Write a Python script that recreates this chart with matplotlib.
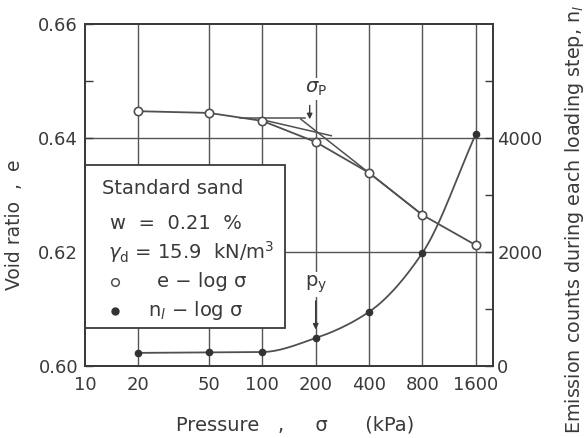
import numpy as np
import matplotlib
matplotlib.use("Agg")
import matplotlib.pyplot as plt
from matplotlib.patches import Rectangle

# ---- data ----
pressure = [20, 50, 100, 200, 400, 800, 1600]          # kPa
void_ratio = [0.6447, 0.6444, 0.6430, 0.6393, 0.6339, 0.6265, 0.6212]
emission = [230, 238, 245, 490, 950, 1985, 4070]        # n_l
x_ticks = [10, 20, 50, 100, 200, 400, 800, 1600]
x_ticklabels = ["10", "20", "50", "100", "200", "400", "800", "1600"]
e_ticks = [0.60, 0.62, 0.64, 0.66]
n_ticks = [0, 2000, 4000]
# Casagrande construction (sigma_p)
horiz_x = [75, 175]
horiz_e = [0.6435, 0.6435]
tang_x = [100, 245]
tang_e = [0.6432, 0.6404]
virgin_x = [165, 800]
virgin_e = [0.6433, 0.6265]
sigma_p = 185
p_y = 200

INK = "#3a3a3a"
LINE = "#505050"
plt.rcParams["font.family"] = ["DejaVu Sans"]

fig = plt.figure(figsize=(5.84, 4.38), dpi=100)
ax = fig.add_axes([85/584, 72/438, 408/584, 342/438])
ax2 = ax.twinx()

ax.set_xscale("log")
ax.set_xlim(10, 2000)
ax.set_ylim(0.60, 0.66)
ax2.set_ylim(0, 6000)

# grid lines (manual, below legend box)
for xv in pressure:
    ax.axvline(xv, color="#555555", lw=1.0, zorder=1)
for yv in [0.62, 0.64]:
    ax.axhline(yv, color="#555555", lw=1.0, zorder=1)

# ticks
ax.set_xticks(x_ticks)
ax.set_xticklabels(x_ticklabels)
ax.xaxis.set_minor_locator(matplotlib.ticker.NullLocator())
ax.tick_params(axis="x", which="both", length=0, pad=7, labelsize=13, colors=INK)
ax.set_yticks(e_ticks)
ax.set_yticklabels(["0.60", "0.62", "0.64", "0.66"])
ax.set_yticks([0.61, 0.63, 0.65], minor=True)
ax.tick_params(axis="y", which="both", direction="in", length=6, width=1,
               pad=5, labelsize=13, colors=INK)
ax2.set_yticks(n_ticks)
ax2.set_yticklabels(["0", "2000", "4000"])
ax2.set_yticks([1000, 3000, 5000], minor=True)
ax2.tick_params(axis="y", which="both", direction="in", length=6, width=1,
                pad=3, labelsize=13, colors=INK)
for a in (ax, ax2):
    for s in a.spines.values():
        s.set_linewidth(1.3)
        s.set_color(INK)

# legend box
ax.add_patch(Rectangle((0, 0.111), 0.49, 0.477, transform=ax.transAxes,
                       facecolor="white", edgecolor=INK, lw=1.3, zorder=2))

# e - log sigma
ax.plot(pressure, void_ratio, color=LINE, lw=1.3, marker="o", ms=6,
        mfc="white", mec=LINE, mew=1.2, zorder=4)
ax.plot(horiz_x, horiz_e, color=LINE, lw=1.1, zorder=3)
ax.plot(tang_x, tang_e, color=LINE, lw=1.1, zorder=3)
ax.plot(virgin_x, virgin_e, color=LINE, lw=1.1, zorder=3)

# n_l - log sigma (smooth monotone curve through data)
lx = np.log10(pressure)
y = np.array(emission, dtype=float)
h = np.diff(lx)
d = np.diff(y) / h
m = np.zeros_like(y)
m[0], m[-1] = d[0], d[-1]
for i in range(1, len(y) - 1):
    if d[i-1] * d[i] <= 0:
        m[i] = 0
    else:
        w1 = 2*h[i] + h[i-1]
        w2 = h[i] + 2*h[i-1]
        m[i] = (w1 + w2) / (w1/d[i-1] + w2/d[i])
xs, ys = [], []
for i in range(len(h)):
    t = np.linspace(0, 1, 40)
    h00 = 2*t**3 - 3*t**2 + 1
    h10 = t**3 - 2*t**2 + t
    h01 = -2*t**3 + 3*t**2
    h11 = t**3 - t**2
    xs.extend(10**(lx[i] + t*h[i]))
    ys.extend(h00*y[i] + h10*h[i]*m[i] + h01*y[i+1] + h11*h[i]*m[i+1])
ax2.plot(xs, ys, color=LINE, lw=1.3, zorder=3)
ax2.plot(pressure, emission, ls="none", marker="o", ms=4.5, color="#333333",
         zorder=4)

# annotations
ax.text(200, 0.6486, r"$\sigma_\mathregular{P}$", ha="center", va="center",
        fontsize=14, color=INK, zorder=5, bbox=dict(fc="white", ec="none", pad=1))
ax.annotate("", xy=(sigma_p, 0.6428), xytext=(sigma_p, 0.6462),
            arrowprops=dict(arrowstyle="-|>", color=INK, lw=1.0,
                            mutation_scale=8), zorder=5)
ax2.text(p_y, 1430, r"$\mathregular{p_y}$", ha="center", va="center",
         fontsize=14, color=INK, zorder=5,
         bbox=dict(fc="white", ec="none", pad=1))
ax2.annotate("", xy=(p_y, 590), xytext=(p_y, 1190),
             arrowprops=dict(arrowstyle="-|>", color=INK, lw=1.0,
                             mutation_scale=8), zorder=5)

# legend contents
tk = dict(transform=ax.transAxes, fontsize=14, color=INK, va="center",
          zorder=5)
ax.text(0.042, 0.520, "Standard sand", **tk)
ax.text(0.061, 0.418, "w  =  0.21  %", **tk)
ax.text(0.056, 0.333, r"$\gamma_\mathregular{d}$ = 15.9  kN/m$^3$", **tk)
ax.plot([0.074], [0.246], transform=ax.transAxes, marker="o", ms=5.5,
        mfc="white", mec=LINE, mew=1.1, ls="none", zorder=5)
ax.text(0.176, 0.246, "e − log σ", **tk)
ax.plot([0.074], [0.161], transform=ax.transAxes, marker="o", ms=5,
        color="#333333", ls="none", zorder=5)
ax.text(0.154, 0.161, r"n$_l$ − log σ", **tk)

# axis labels
fig.text(295/584, 1 - 425/438, "Pressure   ,     σ      (kPa)", ha="center",
         va="center", fontsize=14, color=INK)
fig.text(15/584, 1 - 225/438, "Void ratio  ,  e", rotation=90, ha="center",
         va="center", fontsize=13.5, color=INK)
fig.text(574/584, 1 - 434/438, r"Emission counts during each loading step, n$_l$",
         rotation=90, rotation_mode="anchor", ha="left", va="center",
         fontsize=13.8, color=INK)

fig.savefig("out.png", dpi=100, facecolor="white")
